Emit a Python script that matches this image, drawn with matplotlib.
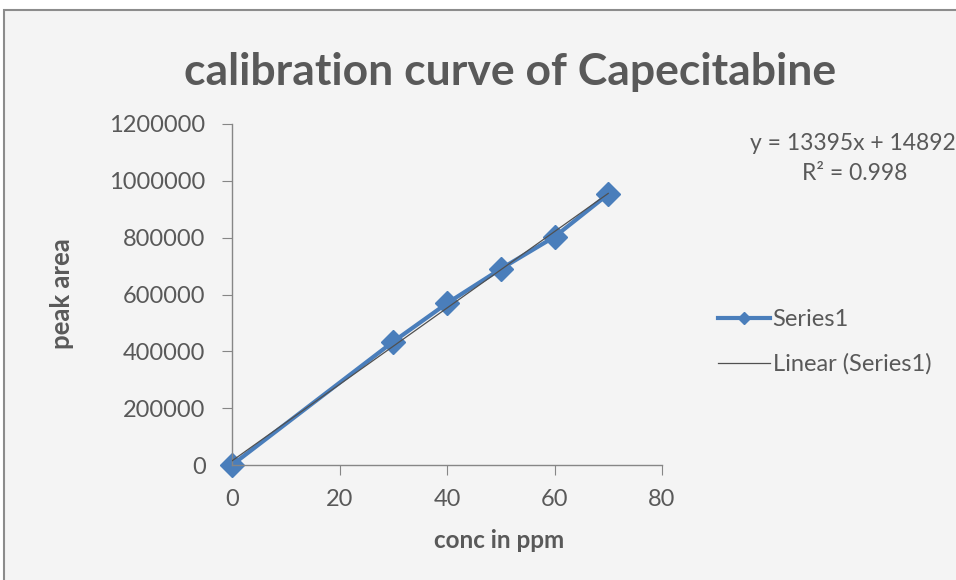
import matplotlib.pyplot as plt
import numpy as np
from matplotlib.patches import Rectangle

## Data
conc = [0, 30, 40, 50, 60, 70]
area = [0, 434000, 569000, 690000, 803000, 953000]
yticks = [0, 200000, 400000, 600000, 800000, 1000000, 1200000]
xticks = [0, 20, 40, 60, 80]
eqText = "y = 13395x + 14892"
r2Text = "R² = 0.998"

textCol = '#595959'
blue = '#4A7EBB'
plt.rcParams['font.family'] = ['Lato', 'DejaVu Sans']

fig = plt.figure(figsize=(9.56, 5.8), dpi=100)
fig.patch.set_facecolor('white')

# Chart area box (grey fill with border, runs off right/bottom)
fig.patches.append(Rectangle((4/956, -0.01), 1.0, 1 - 10/580 + 0.01,
                             transform=fig.transFigure, facecolor='#F4F4F4',
                             edgecolor='#8C8C8C', linewidth=1.5, zorder=-5))

ax = fig.add_axes([232/956, 1 - 465/580, 430/956, 341/580])
ax.set_facecolor('none')
ax.set_zorder(2)

# Linear trendline from least squares fit
coef = np.polyfit(conc, area, 1)
xFit = np.array([min(conc), max(conc)])
ax.plot(xFit, np.polyval(coef, xFit), color='#505050', linewidth=0.9, zorder=3,
        label='Linear (Series1)')
ax.plot(conc, area, color=blue, linewidth=3, marker='D', markersize=12,
        zorder=2, label='Series1', clip_on=False)

ax.set_xlim(0, 80)
ax.set_ylim(0, 1200000)
ax.set_xticks(xticks)
ax.set_yticks(yticks)
ax.set_yticklabels([str(v) for v in yticks])

for s in ['top', 'right']:
    ax.spines[s].set_visible(False)
for s in ['left', 'bottom']:
    ax.spines[s].set_color('#868686')
    ax.spines[s].set_linewidth(1)
ax.tick_params(colors='#868686', labelcolor=textCol, labelsize=17,
               length=7, direction='out')
ax.tick_params(axis='y', pad=12)
ax.tick_params(axis='x', pad=10)

# Axis titles placed where Excel put them
fig.text(499/956, 1 - 541/580, 'conc in ppm', ha='center', va='center',
         fontsize=17.5, fontweight='bold', color=textCol)
fig.text(62/956, 1 - 294/580, 'peak area', ha='center', va='center', rotation=90,
         fontsize=18.5, fontweight='bold', color=textCol)

fig.text(510/956, 1 - 72/580, 'calibration curve of Capecitabine', ha='center', va='center',
         fontsize=32, fontweight='bold', color=textCol)

fig.text(750/956, 1 - 143/580, eqText, ha='left', va='center', fontsize=16.5, color=textCol)
fig.text(855/956, 1 - 173/580, r2Text, ha='center', va='center', fontsize=16.5, color=textCol)

h, l = ax.get_legend_handles_labels()
leg = fig.legend([h[1], h[0]], [l[1], l[0]], loc='center left',
                 bbox_to_anchor=(697/956, 1 - 342/580), frameon=False,
                 fontsize=17, labelcolor=textCol, handlelength=2.2,
                 handletextpad=0.1, labelspacing=1.0, markerscale=0.55)

fig.savefig('out.png', dpi=100)
